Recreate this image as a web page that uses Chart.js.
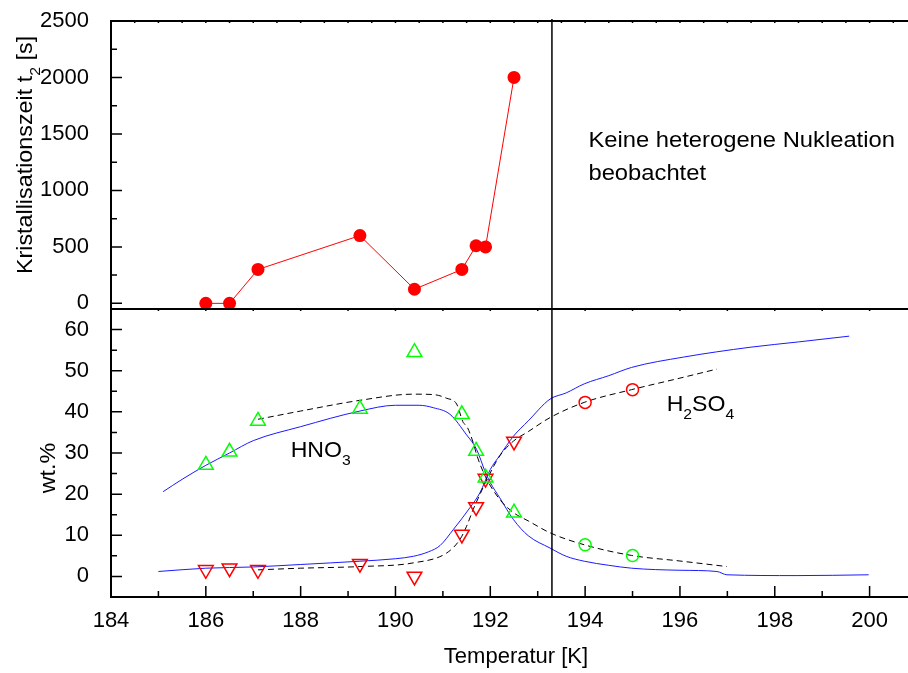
<!DOCTYPE html>
<html>
<head>
<meta charset="utf-8">
<script src="https://cdn.jsdelivr.net/npm/chart.js@4.4.1/dist/chart.umd.min.js"></script>
<style>
  html, body { margin: 0; padding: 0; background: #fff; }
  canvas { display: block; }
</style>
</head>
<body>
<canvas id="chart" width="908" height="673"></canvas>
<script>
// axis ticks and the phase boundary
const xTicks = [184, 186, 188, 190, 192, 194, 196, 198, 200];
const timeTicks = [0, 500, 1000, 1500, 2000, 2500];
const wtTicks = [0, 10, 20, 30, 40, 50, 60];
const boundaryT = 193.3;

// top panel: crystallisation time t2 [s]
const crystT = [186, 186.5, 187.1, 189.25, 190.4, 191.4, 191.7, 191.9, 192.5];
const crystTime = [0, 0, 300, 600, 125, 300, 510, 500, 2000];

// bottom panel: measured compositions (triangles)
const measT = [186, 186.5, 187.1, 189.25, 190.4, 191.4, 191.7, 191.9, 192.5];
const hno3Meas = [27.1, 30.3, 37.8, 40.7, 54.5, 39.4, 30.5, 24.0, 15.5];
const h2so4Meas = [1.6, 2.0, 1.6, 3.1, 0.0, 10.2, 16.9, 23.8, 32.8];

// measured compositions above the boundary (circles)
const circT = [194, 195];
const hno3Circ = [7.7, 5.1];
const h2so4Circ = [42.3, 45.4];

// model curves (blue)
const hno3ModelT = [185.1, 185.5, 186, 186.5, 187, 188, 189.25, 190, 190.5, 190.8, 191.15, 191.5, 191.71, 191.9, 192.0, 192.2, 192.49, 192.8, 193.26, 193.6, 193.98, 194.5, 194.98, 196, 196.78, 196.99, 198.47, 199.98];
const hno3Model = [20.6, 23.6, 27.0, 30.0, 33.0, 36.4, 40.2, 41.6, 41.6, 41.0, 39.4, 34.4, 30.9, 25.2, 22.8, 19.1, 13.8, 9.9, 6.9, 4.9, 3.7, 2.7, 2.0, 1.5, 1.2, 0.4, 0.2, 0.4];
const h2so4ModelT = [185.0, 186, 187, 188, 189.25, 190, 190.38, 190.7, 190.94, 191.22, 191.57, 191.78, 192.0, 192.2, 192.49, 192.8, 193.26, 193.6, 193.98, 194.5, 194.98, 196.07, 197.48, 198.5, 199.57];
const h2so4Model = [1.2, 2.0, 2.3, 2.9, 3.7, 4.3, 4.9, 6.0, 7.5, 11.4, 16.7, 20.3, 26.0, 29.4, 34.1, 37.8, 43.1, 44.6, 46.8, 48.8, 50.8, 53.3, 55.7, 57.0, 58.4];

// fitted curves (black dashed)
const hno3FitT = [187.1, 187.28, 188, 189.25, 190.38, 190.8, 191.08, 191.29, 191.43, 191.5, 191.64, 191.72, 191.9, 192.2, 192.49, 192.8, 193.26, 193.98, 194.98, 196, 196.99];
const hno3Fit = [38.2, 38.6, 40.2, 42.8, 44.3, 44.2, 43.3, 41.9, 37.4, 36.6, 32.5, 29.3, 24.2, 18.7, 15.5, 13.5, 10.6, 7.7, 5.1, 3.75, 2.4];
const h2so4FitT = [187.1, 188, 189.25, 190.38, 191.08, 191.36, 191.5, 191.64, 191.78, 191.93, 192.2, 192.49, 192.8, 193.26, 193.98, 194.98, 196, 196.78];
const h2so4Fit = [1.6, 2.0, 2.4, 3.3, 5.7, 9.0, 12.2, 16.3, 19.9, 23.6, 29.3, 32.9, 35.2, 38.6, 42.3, 45.4, 48.2, 50.4];

const FONT = '"Liberation Sans", Arial, sans-serif';

const pts = (xs, ys) => xs.map((x, i) => ({ x: x, y: ys[i] }));

// draws text with subscripts, parts = [[text, isSub], ...]
function richText(ctx, parts, x, y, opt) {
  const size = opt.size;
  const fontOf = (sub) => (sub ? Math.round(size * 0.68) : size) + 'px ' + FONT;
  ctx.save();
  ctx.translate(x, y);
  if (opt.rotate) ctx.rotate(opt.rotate);
  ctx.scale(opt.sx || 1, 1);
  ctx.fillStyle = '#000';
  ctx.textBaseline = 'alphabetic';
  ctx.textAlign = 'left';
  let w = 0;
  parts.forEach(([t, sub]) => { ctx.font = fontOf(sub); w += ctx.measureText(t).width; });
  let cx = opt.align === 'center' ? -w / 2 : 0;
  parts.forEach(([t, sub]) => {
    ctx.font = fontOf(sub);
    ctx.fillText(t, cx, sub ? size * 0.35 : 0);
    cx += ctx.measureText(t).width;
  });
  ctx.restore();
}

// no extra room for overhanging tick labels, the frame is fixed
const noPad = (s) => { s.paddingLeft = 0; s.paddingRight = 0; s.paddingTop = 0; s.paddingBottom = 0; };

const framePlugin = {
  id: 'frame',
  afterDatasetsDraw(chart) {
    const ctx = chart.ctx;
    const x = chart.scales.x, yT = chart.scales.yT, yB = chart.scales.yB;
    const left = chart.chartArea.left, right = chart.chartArea.right;
    const top = yT.top, mid = yT.bottom, bottom = yB.bottom;

    ctx.save();
    ctx.strokeStyle = '#000';
    ctx.lineCap = 'butt';

    // boundary line
    const bx = x.getPixelForValue(boundaryT);
    ctx.lineWidth = 1.5;
    ctx.beginPath();
    ctx.moveTo(bx, top - 2);
    ctx.lineTo(bx, bottom);
    ctx.stroke();

    // frame
    ctx.lineWidth = 2;
    ctx.beginPath();
    ctx.moveTo(left, top); ctx.lineTo(right, top);
    ctx.moveTo(left, mid); ctx.lineTo(right, mid);
    ctx.moveTo(left, bottom); ctx.lineTo(right, bottom);
    ctx.moveTo(left, top - 1); ctx.lineTo(left, bottom + 1);
    ctx.stroke();

    // inward ticks
    ctx.lineWidth = 1.5;
    ctx.beginPath();
    for (let v = 184; v <= x.max; v += 1) {
      const px = x.getPixelForValue(v);
      const len = v % 2 === 0 ? 11 : 6;
      ctx.moveTo(px, bottom); ctx.lineTo(px, bottom - len);
      ctx.moveTo(px, mid); ctx.lineTo(px, mid + 2);
    }
    for (let v = 184; v <= x.max; v += 0.5) {
      const px = x.getPixelForValue(v);
      ctx.moveTo(px, top); ctx.lineTo(px, top + 2);
    }
    for (let v = 0; v <= 2500; v += 250) {
      const py = yT.getPixelForValue(v);
      ctx.moveTo(left, py); ctx.lineTo(left + (v % 500 === 0 ? 11 : 6), py);
    }
    for (let v = 0; v <= 60; v += 5) {
      const py = yB.getPixelForValue(v);
      ctx.moveTo(left, py); ctx.lineTo(left + (v % 10 === 0 ? 11 : 6), py);
    }
    ctx.stroke();
    ctx.restore();

    // axis titles
    richText(ctx, [['Kristallisationszeit t', false], ['2', true], [' [s]', false]], 32, 155,
      { size: 22, sx: 1.06, rotate: -Math.PI / 2, align: 'center' });
    richText(ctx, [['wt.%', false]], 55, 468, { size: 22, sx: 1.06, rotate: -Math.PI / 2, align: 'center' });
    richText(ctx, [['Temperatur [K]', false]], 516, 663, { size: 22, align: 'center' });

    // annotations
    richText(ctx, [['Keine heterogene Nukleation', false]], x.getPixelForValue(194.07), yT.getPixelForValue(1380), { size: 22, sx: 1.08 });
    richText(ctx, [['beobachtet', false]], x.getPixelForValue(194.07), yT.getPixelForValue(1091), { size: 22, sx: 1.08 });
    richText(ctx, [['HNO', false], ['3', true]], x.getPixelForValue(187.79), yB.getPixelForValue(29.0), { size: 22, sx: 1.05 });
    richText(ctx, [['H', false], ['2', true], ['SO', false], ['4', true]], x.getPixelForValue(195.72), yB.getPixelForValue(40.2), { size: 22, sx: 1.05 });
  }
};

const tickFont = { family: FONT, size: 22 };

const curve = { yAxisID: 'yB', showLine: true, pointRadius: 0, borderWidth: 1, cubicInterpolationMode: 'monotone' };

new Chart(document.getElementById('chart'), {
  type: 'scatter',
  data: {
    datasets: [
      {
        data: pts(crystT, crystTime), yAxisID: 'yT', showLine: true,
        borderColor: '#ff0000', borderWidth: 1, backgroundColor: '#ff0000',
        pointRadius: 6.5, pointBorderWidth: 0
      },
      {
        data: pts(measT, hno3Meas), yAxisID: 'yB', pointStyle: 'triangle',
        pointRadius: 8.5, borderColor: '#00ff00', backgroundColor: 'rgba(0,0,0,0)', pointBorderWidth: 1.5
      },
      {
        data: pts(measT, h2so4Meas), yAxisID: 'yB', pointStyle: 'triangle', pointRotation: 180,
        pointRadius: 8.5, borderColor: '#ff0000', backgroundColor: 'rgba(0,0,0,0)', pointBorderWidth: 1.5
      },
      {
        data: pts(circT, hno3Circ), yAxisID: 'yB', pointStyle: 'circle',
        pointRadius: 6, borderColor: '#00ff00', backgroundColor: 'rgba(0,0,0,0)', pointBorderWidth: 1.5
      },
      {
        data: pts(circT, h2so4Circ), yAxisID: 'yB', pointStyle: 'circle',
        pointRadius: 6, borderColor: '#ff0000', backgroundColor: 'rgba(0,0,0,0)', pointBorderWidth: 1.5
      },
      { ...curve, data: pts(hno3FitT, hno3Fit), borderColor: '#000', borderDash: [6, 4] },
      { ...curve, data: pts(h2so4FitT, h2so4Fit), borderColor: '#000', borderDash: [6, 4] },
      { ...curve, data: pts(hno3ModelT, hno3Model), borderColor: '#1a1aff' },
      { ...curve, data: pts(h2so4ModelT, h2so4Model), borderColor: '#1a1aff' }
    ]
  },
  options: {
    responsive: false,
    animation: false,
    layout: { autoPadding: false, padding: { top: 21, right: 0, bottom: 0, left: 0 } },
    plugins: { legend: { display: false }, tooltip: { enabled: false } },
    scales: {
      x: {
        type: 'linear', min: 184, max: 200.81,
        grid: { display: false }, border: { display: false },
        afterBuildTicks: (s) => { s.ticks = xTicks.map((v) => ({ value: v })); },
        afterFit: (s) => { s.height = 76; noPad(s); },
        ticks: { font: tickFont, color: '#000', padding: 3, maxRotation: 0, autoSkip: false, callback: (v) => String(v) }
      },
      yB: {
        type: 'linear', position: 'left', stack: 'panels', stackWeight: 1, min: -5, max: 65,
        grid: { display: false }, border: { display: false },
        afterBuildTicks: (s) => { s.ticks = wtTicks.map((v) => ({ value: v })); },
        afterFit: (s) => { s.width = 111; noPad(s); },
        ticks: { font: tickFont, color: '#000', padding: 14, autoSkip: false, callback: (v) => String(v) }
      },
      yT: {
        type: 'linear', position: 'left', stack: 'panels', stackWeight: 1, min: -50, max: 2500,
        grid: { display: false }, border: { display: false },
        afterBuildTicks: (s) => { s.ticks = timeTicks.map((v) => ({ value: v })); },
        afterFit: (s) => { s.width = 111; noPad(s); },
        ticks: { font: tickFont, color: '#000', padding: 14, autoSkip: false, callback: (v) => String(v) }
      }
    }
  },
  plugins: [framePlugin]
});
</script>
</body>
</html>
